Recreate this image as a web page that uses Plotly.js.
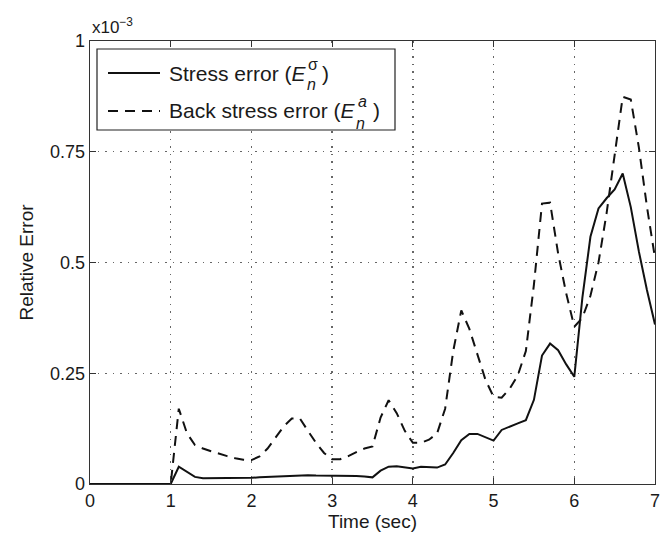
<!DOCTYPE html>
<html>
<head>
<meta charset="utf-8">
<script src="https://cdn.plot.ly/plotly-3.0.1.min.js"></script>
<style>html,body{margin:0;padding:0;background:#fff;}#chart{width:670px;height:539px;}</style>
</head>
<body>
<div id="chart"></div>
<script>
// Time (sec)
const time = [0,0.1,0.2,0.3,0.4,0.5,0.6,0.7,0.8,0.9,1.0,
  1.1,1.2,1.3,1.4,1.5,1.6,1.7,1.8,1.9,2.0,
  2.1,2.2,2.3,2.4,2.5,2.6,2.7,2.8,2.9,3.0,
  3.1,3.2,3.3,3.4,3.5,3.6,3.7,3.8,3.9,4.0,
  4.1,4.2,4.3,4.4,4.5,4.6,4.7,4.8,4.9,5.0,
  5.1,5.2,5.3,5.4,5.5,5.6,5.7,5.8,5.9,6.0,
  6.1,6.2,6.3,6.4,6.5,6.6,6.7,6.8,6.9,7.0];
// Stress error (x1e-3)
const stressError = [0,0,0,0,0,0,0,0,0,0,0,
  0.039,0.028,0.016,0.013,0.013,0.013,0.013,0.014,0.014,0.014,
  0.015,0.016,0.017,0.018,0.019,0.020,0.020,0.019,0.019,0.019,
  0.019,0.019,0.018,0.017,0.015,0.030,0.039,0.040,0.037,0.035,
  0.039,0.038,0.037,0.044,0.070,0.099,0.113,0.113,0.105,0.098,
  0.122,0.130,0.137,0.144,0.190,0.290,0.317,0.302,0.270,0.242,
  0.420,0.558,0.622,0.645,0.665,0.701,0.625,0.525,0.438,0.360];
// Back stress error (x1e-3)
const backStressError = [0,0,0,0,0,0,0,0,0,0,0,
  0.170,0.115,0.088,0.080,0.074,0.068,0.063,0.058,0.055,0.054,
  0.062,0.080,0.105,0.130,0.148,0.148,0.120,0.093,0.070,0.056,
  0.056,0.063,0.072,0.080,0.085,0.150,0.189,0.160,0.120,0.093,
  0.093,0.100,0.114,0.170,0.300,0.392,0.350,0.290,0.235,0.197,
  0.195,0.215,0.245,0.300,0.450,0.633,0.635,0.520,0.430,0.355,
  0.375,0.425,0.500,0.611,0.740,0.874,0.868,0.760,0.626,0.510];
const xTicks = [0,1,2,3,4,5,6,7];
const yTicks = [0,0.25,0.5,0.75,1];
const yTickLabels = ["0","0.25","0.5","0.75","1"];
const legendLabels = ["Stress error (<i>E</i>", "Back stress error (<i>E</i>"];
const legendSup = ["σ", "<i>a</i>"];

const FAM = "Liberation Sans, Arial, sans-serif";
const INK = "#1a1a1a";
const tickFont = {family: FAM, size: 18, color: INK};
const titleFont = {family: FAM, size: 19, color: INK};
const legFont = {family: FAM, size: 21, color: INK};

// plot-area pixel helpers (for legend decoration only)
const L = 90, T = 41, W = 565, H = 443;
const px = x => (x - L) / W;
const py = y => (T + H - y) / H;

const traces = [
  {x: time, y: stressError, mode: "lines", name: "Stress error",
   line: {color: "#111", width: 2}},
  {x: time, y: backStressError, mode: "lines", name: "Back stress error",
   line: {color: "#111", width: 2, dash: "10px,7px"}}
];
const axisCommon = {
  showline: true, linecolor: "#333", linewidth: 1.3, mirror: "ticks",
  ticks: "inside", ticklen: 6, tickcolor: "#333", tickwidth: 1.2,
  showgrid: true, gridcolor: "#666", griddash: "1.5px,6px", gridwidth: 1.3,
  zeroline: false, tickfont: tickFont, automargin: false
};
const rows = [73, 111];
const subX = [305, 354], supX = [306, 356], closeX = [320, 371];
const shapes = [
  {type: "rect", xref: "paper", yref: "paper", x0: px(97), x1: px(395), y0: py(130), y1: py(49),
   line: {color: "#222", width: 1.2}, fillcolor: "#fff", layer: "above"},
  {type: "line", xref: "paper", yref: "paper", x0: px(108), x1: px(160), y0: py(rows[0]), y1: py(rows[0]),
   line: {color: "#111", width: 2}},
  {type: "line", xref: "paper", yref: "paper", x0: px(108), x1: px(160), y0: py(rows[1]), y1: py(rows[1]),
   line: {color: "#111", width: 2, dash: "10px,7px"}}
];
const annotations = [
  {xref: "paper", yref: "paper", x: 0, y: 1, xanchor: "left", yanchor: "bottom",
   text: "x10<sup>−3</sup>", showarrow: false, font: {family: FAM, size: 17, color: INK}, yshift: 2}
];
legendLabels.forEach((lab, i) => {
  const y = rows[i];
  annotations.push({xref: "paper", yref: "paper", x: px(167), y: py(y), xanchor: "left", yanchor: "middle",
    text: lab, showarrow: false, font: legFont});
  annotations.push({xref: "paper", yref: "paper", x: px(subX[i]), y: py(y + 12), xanchor: "left", yanchor: "middle",
    text: "<i>n</i>", showarrow: false, font: {family: FAM, size: 16, color: INK}});
  annotations.push({xref: "paper", yref: "paper", x: px(supX[i]), y: py(y - 9), xanchor: "left", yanchor: "middle",
    text: legendSup[i], showarrow: false, font: {family: FAM, size: 16, color: INK}});
  annotations.push({xref: "paper", yref: "paper", x: px(closeX[i]), y: py(y), xanchor: "left", yanchor: "middle",
    text: ")", showarrow: false, font: legFont});
});

const layout = {
  width: 670, height: 539,
  margin: {l: L, r: 670 - L - W, t: T, b: 539 - T - H},
  paper_bgcolor: "#fff", plot_bgcolor: "#fff",
  font: tickFont,
  showlegend: false,
  xaxis: Object.assign({}, axisCommon, {
    range: [0, 7], tickvals: xTicks, ticktext: xTicks.map(String),
    title: {text: "Time (sec)", font: titleFont, standoff: 4}
  }),
  yaxis: Object.assign({}, axisCommon, {
    range: [0, 1], tickvals: yTicks, ticktext: yTickLabels,
    title: {text: "Relative Error", font: titleFont, standoff: 11}
  }),
  shapes: shapes,
  annotations: annotations
};
Plotly.newPlot("chart", traces, layout, {displayModeBar: false, staticPlot: true});
</script>
</body>
</html>
